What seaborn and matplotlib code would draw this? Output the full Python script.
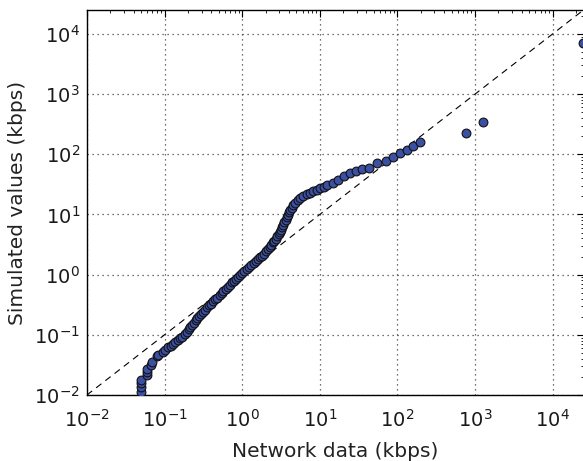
import matplotlib
matplotlib.use("Agg")
import matplotlib.pyplot as plt
import matplotlib.ticker as mticker
import seaborn as sns
import pandas as pd

# Q-Q points: network data quantiles (x) vs simulated quantiles (y), kbps
network_kbps = [
    0.0492, 0.0492, 0.0492, 0.0495, 0.0589, 0.0589, 0.0596, 0.0676, 0.0692, 0.0794,
    0.0813, 0.0955, 0.102, 0.112, 0.120, 0.129, 0.138, 0.148, 0.158, 0.170,
    0.182, 0.195, 0.204, 0.216, 0.226, 0.237, 0.251, 0.266, 0.282, 0.299,
    0.316, 0.335, 0.355, 0.376, 0.398, 0.427, 0.452, 0.479, 0.513, 0.543,
    0.575, 0.617, 0.653, 0.692, 0.741, 0.785, 0.832, 0.891, 0.944, 1.00,
    1.07, 1.15, 1.23, 1.32, 1.41, 1.51, 1.62, 1.72, 1.82, 1.93,
    2.04, 2.16, 2.26, 2.37, 2.48, 2.60, 2.72, 2.85, 2.95, 3.05,
    3.16, 3.27, 3.39, 3.51, 3.63, 3.76, 3.89, 4.03, 4.17, 4.37,
    4.57, 4.84, 5.19, 5.62, 6.17, 6.76, 7.41, 8.22, 9.12, 10.2,
    11.2, 12.4, 14.6, 17.2, 20.4, 24.3, 29.0, 35.0, 42.8, 55.2,
    72.1, 87.7, 109, 133, 161, 194, 757, 1265, 24500,
]
simulated_kbps = [
    0.0114, 0.0135, 0.0158, 0.0178, 0.0214, 0.0245, 0.0275, 0.0316, 0.0347, 0.0437,
    0.0468, 0.0513, 0.055, 0.0617, 0.066, 0.0708, 0.0759, 0.0813, 0.0871, 0.0933,
    0.102, 0.112, 0.123, 0.135, 0.146, 0.158, 0.174, 0.191, 0.204, 0.224,
    0.243, 0.263, 0.285, 0.309, 0.331, 0.359, 0.389, 0.417, 0.457, 0.495,
    0.537, 0.582, 0.631, 0.684, 0.741, 0.794, 0.851, 0.923, 0.989, 1.06,
    1.15, 1.26, 1.36, 1.46, 1.57, 1.68, 1.80, 1.93, 2.07, 2.24,
    2.45, 2.69, 2.92, 3.16, 3.43, 3.67, 3.98, 4.37, 4.79, 5.19,
    5.62, 6.17, 6.76, 7.41, 8.13, 9.02, 9.89, 10.8, 11.9, 13.0,
    14.3, 15.7, 17.2, 18.6, 20.2, 21.6, 22.9, 24.3, 25.7, 27.2,
    28.8, 30.9, 33.9, 37.5, 43.7, 48.4, 52.8, 56.4, 60.0, 71.0,
    78.3, 89.1, 104, 118, 139, 162, 224, 349, 7160,
]
# reference y = x line endpoints
identity_kbps = [0.01, 25000]

x_ticks = [1e-2, 1e-1, 1e0, 1e1, 1e2, 1e3, 1e4]
y_ticks = [1e-2, 1e-1, 1e0, 1e1, 1e2, 1e3, 1e4]

sns.set_style("white")
plt.rcParams["font.family"] = ["DejaVu Sans"]
plt.rcParams["mathtext.fontset"] = "dejavusans"
plt.rcParams["axes.unicode_minus"] = False

fig = plt.figure(figsize=(5.83, 4.61), dpi=100)
ax = fig.add_axes([86.9 / 583, 66 / 461, 496.6 / 583, 385 / 461])

df = pd.DataFrame({"x": network_kbps, "y": simulated_kbps})
line_df = pd.DataFrame({"x": identity_kbps, "y": identity_kbps})

sns.lineplot(data=line_df, x="x", y="y", ax=ax, color="black", lw=0.8,
             linestyle=(0, (6, 4.5)), zorder=2)
sns.scatterplot(data=df, x="x", y="y", ax=ax, s=40, color="#3b4fa3",
                edgecolor="#111111", linewidth=0.8, zorder=3)

ax.set_xscale("log")
ax.set_yscale("log")
ax.set_xlim(1e-2, 2.5e4)
ax.set_ylim(1e-2, 2.5e4)
ax.set_xticks(x_ticks)
ax.set_yticks(y_ticks)
ax.xaxis.set_minor_locator(mticker.LogLocator(base=10, subs=range(2, 10), numticks=20))
ax.yaxis.set_minor_locator(mticker.LogLocator(base=10, subs=range(2, 10), numticks=20))
ax.xaxis.set_minor_formatter(mticker.NullFormatter())
ax.yaxis.set_minor_formatter(mticker.NullFormatter())

ax.grid(True, which="major", color="#444444", linestyle=(0, (1, 3)), linewidth=0.9)
ax.tick_params(which="both", direction="in", top=True, right=True, colors="black",
               labelsize=14, labelcolor="#1a1a1a")
ax.tick_params(which="major", length=5, width=0.8)
ax.tick_params(which="minor", length=2.5, width=0.6)
ax.tick_params(axis="x", pad=10)
ax.tick_params(axis="y", pad=5)
for sp in ax.spines.values():
    sp.set_visible(True)
    sp.set_color("black")
    sp.set_linewidth(1.0)

ax.set_xlabel("Network data (kbps)", fontsize=14.5, color="#222222", labelpad=8)
ax.set_ylabel("Simulated values (kbps)", fontsize=14.5, color="#222222", labelpad=5)

fig.savefig("out.png", dpi=100)
